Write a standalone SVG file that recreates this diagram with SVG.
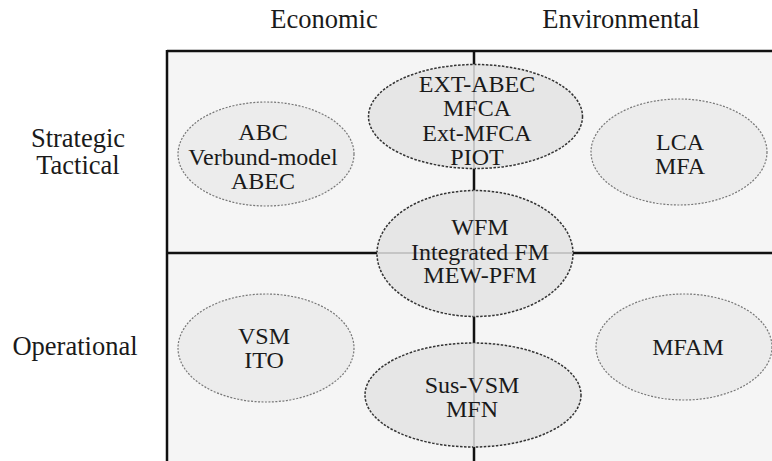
<svg xmlns="http://www.w3.org/2000/svg" width="772" height="461" viewBox="0 0 772 461">
<style>
  text { font-family: "Liberation Serif", "Times New Roman", serif; fill: #1a1a1a; text-anchor: middle; }
  .hdr { font-size: 26.5px; }
  .lbl { font-size: 24px; }
  .grid { stroke: #111; stroke-width: 2.5; fill: none; }
  .faint { stroke: #bdbdbd; stroke-width: 2; opacity: 0.8; fill: none; }
  .side { fill: #ececec; stroke: #777; stroke-width: 1.2; stroke-dasharray: 2 1.5; }
  .mid { fill: #e6e6e6; stroke: #333; stroke-width: 1.5; stroke-dasharray: 2.5 1.5; }
</style>
<rect width="772" height="461" fill="#ffffff"/>
<rect x="167" y="51" width="605" height="410" fill="#f5f5f5"/>
<g id="connectors">
  <line class="grid" x1="167" y1="51" x2="772" y2="51"/>
  <line class="grid" x1="167" y1="50" x2="167" y2="461"/>
  <line class="grid" x1="474" y1="51" x2="474" y2="461"/>
  <line class="grid" x1="167" y1="253" x2="772" y2="253"/>
</g>
<g id="headers">
  <text class="hdr" x="324" y="28">Economic</text>
  <text class="hdr" x="621" y="28">Environmental</text>
  <text class="hdr" x="78" y="147">Strategic</text>
  <text class="hdr" x="78" y="174">Tactical</text>
  <text class="hdr" x="75" y="355">Operational</text>
</g>
<g id="abc">
  <ellipse class="side" cx="266" cy="154" rx="88" ry="52"/>
  <text class="lbl" x="263" y="140">ABC</text>
  <text class="lbl" x="263" y="165">Verbund-model</text>
  <text class="lbl" x="263" y="189">ABEC</text>
</g>
<g id="lca">
  <ellipse class="side" cx="679" cy="152" rx="88" ry="53"/>
  <text class="lbl" x="680" y="150">LCA</text>
  <text class="lbl" x="680" y="174">MFA</text>
</g>
<g id="vsm">
  <ellipse class="side" cx="266" cy="348" rx="88" ry="54"/>
  <text class="lbl" x="264" y="344">VSM</text>
  <text class="lbl" x="264" y="368">ITO</text>
</g>
<g id="mfam">
  <ellipse class="side" cx="684" cy="347" rx="88" ry="53"/>
  <text class="lbl" x="688" y="355">MFAM</text>
</g>
<g id="extabec">
  <ellipse class="mid" cx="475.5" cy="116.5" rx="107" ry="52"/>
  <line class="faint" x1="474" y1="64.5" x2="474" y2="168.5"/>
  <text class="lbl" x="477" y="92">EXT-ABEC</text>
  <text class="lbl" x="477" y="116">MFCA</text>
  <text class="lbl" x="477" y="141">Ext-MFCA</text>
  <text class="lbl" x="477" y="165">PIOT</text>
</g>
<g id="wfm">
  <ellipse class="mid" cx="475" cy="253.5" rx="98" ry="63"/>
  <line class="faint" x1="474" y1="190.5" x2="474" y2="316.5"/>
  <line class="faint" x1="377" y1="253" x2="573" y2="253"/>
  <text class="lbl" x="480" y="235">WFM</text>
  <text class="lbl" x="480" y="260">Integrated FM</text>
  <text class="lbl" x="480" y="283">MEW-PFM</text>
</g>
<g id="susvsm">
  <ellipse class="mid" cx="473" cy="395" rx="108" ry="52"/>
  <line class="faint" x1="474" y1="343" x2="474" y2="447"/>
  <text class="lbl" x="472" y="393">Sus-VSM</text>
  <text class="lbl" x="472" y="417">MFN</text>
</g>
</svg>
